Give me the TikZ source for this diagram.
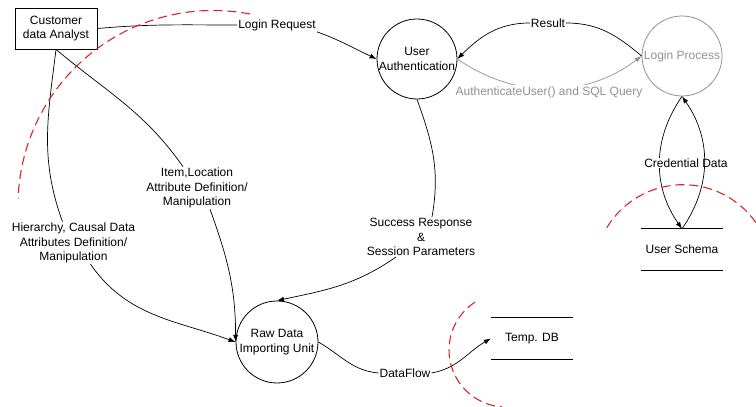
\documentclass[tikz,border=0pt]{standalone}
\usepackage{fontspec}
\setmainfont{Liberation Sans}
\usetikzlibrary{arrows.meta}
\definecolor{procgray}{RGB}{145,145,145}
\definecolor{zonered}{RGB}{220,35,40}
\begin{document}
\begin{tikzpicture}[x=1pt,y=1pt,
  every node/.style={font=\fontsize{12}{14.5}\selectfont, align=center},
  entity/.style={draw, line width=0.8pt, minimum width=82pt, minimum height=41pt, inner sep=0pt},
  process/.style={draw, circle, line width=0.8pt, minimum size=80pt, inner sep=0pt},
  store/.style={minimum width=82pt, minimum height=41pt, inner sep=0pt},
  lbl/.style={fill=white, inner sep=1pt},
  flow/.style={line width=0.7pt},
  arr/.style={flow, -{Latex[length=7pt,width=5pt]}},
  garr/.style={arr, draw=procgray},
  zone/.style={draw=zonered, line width=1.1pt, dash pattern=on 9pt off 5pt},
]
\useasboundingbox (0,0) rectangle (756,407);

% external entity, processes and data stores
\node[entity] (cust) at (56,378.5) {Customer\\data Analyst};
\node[process] (auth) at (417,348) {User\\Authentication};
\node[process, draw=procgray, text=procgray] (login) at (682,351) {Login Process};
\node[process, minimum size=82pt] (raw) at (277,65) {Raw Data\\Importing Unit};
\node[store] (schema) at (682,157.5) {User Schema};
\node[store] (tmp) at (532,68.5) {Temp. DB};
\draw[flow] (schema.north west) -- (schema.north east)
            (schema.south west) -- (schema.south east);
\draw[flow] (tmp.north west) -- (tmp.north east)
            (tmp.south west) -- (tmp.south east);

% flow labels
\node[lbl] (lreq) at (277,382) {Login Request};
\node[lbl] (lres) at (548,384) {Result};
\node[lbl] (litem) at (197,219) {Item,Location\\Attribute Definition/\\Manipulation};
\node[lbl] (lhier) at (73.5,164) {Hierarchy, Causal Data\\Attributes Definition/\\Manipulation};
\node[lbl] (lsucc) at (421,170) {Success Response\\\&\\Session Parameters};
\node[lbl] (ldf) at (405,34) {DataFlow};

% login request
\draw[flow] (cust.east) to[out=5,in=180] (lreq.west);
\draw[arr] (lreq.south east) to[out=-20,in=155] (auth.west);

% result back to authentication
\draw[flow] (login.west) to[out=140,in=0] (lres.east);
\draw[arr] (lres.west) to[out=180,in=45] (auth.east);

% authentication query
\draw[garr] (auth.east) .. controls (515,308) and (585,308) .. (login.west);
\node[lbl, text=procgray] (lsql) at (549,315) {AuthenticateUser() and SQL Query};

% credential data exchange
\draw[arr] (login.south) to[out=235,in=125] (schema.north);
\node[lbl] (lcred) at (686,244) {Credential Data};
\draw[arr] (schema.north) to[out=55,in=-55] (login.south);

% success response
\draw[flow] (auth.south) to[out=-70,in=80] ([xshift=11pt]lsucc.north);
\draw[arr] ([xshift=-25pt]lsucc.south) to[out=215,in=12] (raw.north);

% attribute definitions
\draw[flow] (cust.south) to[out=-40,in=125] ([xshift=-14pt]litem.north);
\draw[arr] ([xshift=13pt]litem.south) to[out=-70,in=90] (raw.west);
\draw[flow] (cust.south) to[out=-97,in=110] ([xshift=-11pt]lhier.north);
\draw[arr] ([xshift=17pt]lhier.south) to[out=-55,in=160] (raw.west);

% data flow to temporary store
\draw[flow] (raw.east) to[out=-30,in=175] (ldf.west);
\draw[arr] (ldf.east) to[out=10,in=210] (tmp.west);

% boundary arcs
\draw[zone] (213,201.5) ++(79:195) arc[start angle=79,end angle=178,radius=195];
\draw[zone] (683,133.3) ++(149:89) arc[start angle=149,end angle=35,radius=89];
\draw[zone] (506,57) ++(123:57) arc[start angle=123,end angle=266,radius=57];
\end{tikzpicture}
\end{document}
